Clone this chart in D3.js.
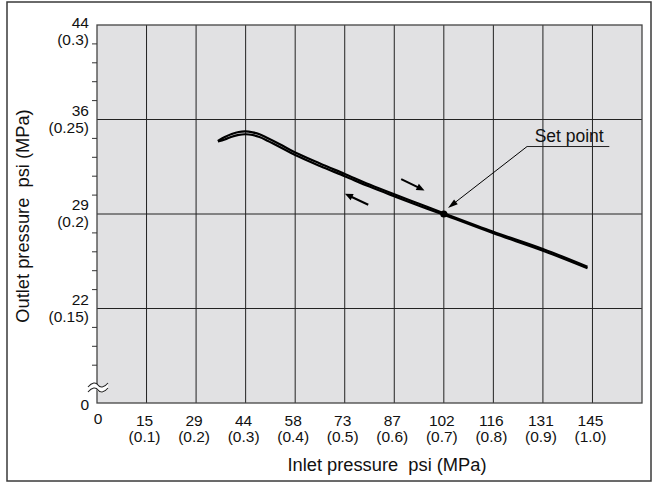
<!DOCTYPE html>
<html><head><meta charset="utf-8">
<script src="https://cdn.jsdelivr.net/npm/d3@7"></script>
<style>
html,body{margin:0;padding:0;background:#fff;}
text{font-family:"Liberation Sans",Arial,Helvetica,sans-serif;fill:#111;}
</style></head>
<body>
<svg id="chart" width="658" height="483"></svg>
<script>
// ---- data ----
const xTickMPa = [0.1,0.2,0.3,0.4,0.5,0.6,0.7,0.8,0.9,1.0];
const xTickPsi = ["15","29","44","58","73","87","102","116","131","145"];
const xTickMPaLabel = ["(0.1)","(0.2)","(0.3)","(0.4)","(0.5)","(0.6)","(0.7)","(0.8)","(0.9)","(1.0)"];
const yTickMPa = [0.15,0.2,0.25,0.3];
const yTickPsi = ["22","29","36","44"];
const yTickMPaLabel = ["(0.15)","(0.2)","(0.25)","(0.3)"];
const yMinorTicks = [0.12,0.13,0.14,0.16,0.17,0.18,0.19,0.21,0.22,0.23,0.24,0.26,0.27,0.28,0.29];

// inlet pressure (MPa) vs outlet pressure (MPa), two branches of the hysteresis
const inletUpper  = [0.244,0.258,0.272,0.286,0.300,0.314,0.328,0.344,0.369,0.40,0.45,0.50,0.55,0.60,0.65,0.70,0.80,0.90,0.99];
const outletUpper = [0.2386,0.2407,0.2423,0.2434,0.2437,0.2432,0.2422,0.2402,0.2369,0.2325,0.2267,0.2212,0.2156,0.2104,0.2054,0.2004,0.1906,0.1815,0.1721];
const inletLower  = [0.244,0.258,0.272,0.286,0.300,0.314,0.328,0.344,0.369,0.40,0.45,0.50,0.55,0.60,0.65,0.70,0.80,0.90,0.99];
const outletLower = [0.2384,0.2394,0.2409,0.2419,0.2422,0.2418,0.2407,0.2388,0.2355,0.2312,0.2254,0.2200,0.2145,0.2094,0.2044,0.1996,0.1898,0.1806,0.1713];

const setPoint = {x:0.7, y:0.2, label:"Set point"};
const xTitle = "Inlet pressure  psi (MPa)";
const yTitle = "Outlet pressure  psi (MPa)";

// ---- layout ----
const svg = d3.select("#chart");
const x = d3.scaleLinear().domain([0,1.1]).range([97,642]);
const y = d3.scaleLinear().domain([0.1,0.3]).range([403,25]);

// outer frame
svg.append("rect").attr("x",7).attr("y",2).attr("width",644).attr("height",479)
  .attr("fill","none").attr("stroke","#3a3a3a").attr("stroke-width",1.5);

// plot background
svg.append("rect").attr("x",x(0)).attr("y",y(0.3)).attr("width",x(1.1)-x(0)).attr("height",y(0.1)-y(0.3))
  .attr("fill","#e1e1e3");

// grid
const g = svg.append("g");
g.selectAll("line.v").data(xTickMPa).join("line")
  .attr("x1",d=>x(d)).attr("x2",d=>x(d)).attr("y1",y(0.3)).attr("y2",y(0.1))
  .attr("stroke","#222").attr("stroke-width",1);
g.selectAll("line.h").data(yTickMPa.slice(0,3)).join("line")
  .attr("x1",x(0)).attr("x2",x(1.1)).attr("y1",d=>y(d)).attr("y2",d=>y(d))
  .attr("stroke","#222").attr("stroke-width",1);

// plot border
svg.append("rect").attr("x",x(0)).attr("y",y(0.3)).attr("width",x(1.1)-x(0)).attr("height",y(0.1)-y(0.3))
  .attr("fill","none").attr("stroke","#444").attr("stroke-width",1.3);

// minor y ticks
svg.selectAll("line.mt").data(yMinorTicks).join("line")
  .attr("x1",x(0)-5).attr("x2",x(0)).attr("y1",d=>y(d)).attr("y2",d=>y(d))
  .attr("stroke","#333").attr("stroke-width",1);

// axis break symbol
const bY = 387, bX = x(0);
const wave = (yy)=>`M${bX-9},${yy+2} C${bX-5},${yy-3} ${bX-1},${yy-3} ${bX+1},${yy} S${bX+7},${yy+3} ${bX+11},${yy-2}`;
svg.append("path").attr("d", wave(bY-2)+` L${bX+11},${bY+2} `+ `C${bX+7},${bY+7} ${bX+3},${bY+7} ${bX+1},${bY+4} S${bX-5},${bY+1} ${bX-9},${bY+4} Z`)
  .attr("fill","#fff").attr("stroke","none");
svg.append("path").attr("d",wave(bY-2)).attr("fill","none").attr("stroke","#222").attr("stroke-width",1.1);
svg.append("path").attr("d",wave(bY+3)).attr("fill","none").attr("stroke","#222").attr("stroke-width",1.1);

// x tick labels
const fsTick = 15.5;
svg.selectAll("text.xp").data(xTickPsi).join("text")
  .attr("x",(d,i)=>x(xTickMPa[i])-2).attr("y",426).attr("text-anchor","middle")
  .attr("font-size",fsTick).text(d=>d);
svg.selectAll("text.xm").data(xTickMPaLabel).join("text")
  .attr("x",(d,i)=>x(xTickMPa[i])-2).attr("y",442).attr("text-anchor","middle")
  .attr("font-size",fsTick).text(d=>d);
svg.append("text").attr("x",x(0)+1).attr("y",424).attr("text-anchor","middle").attr("font-size",fsTick).text("0");
svg.append("text").attr("x",89).attr("y",410).attr("text-anchor","end").attr("font-size",fsTick).text("0");

// y tick labels
yTickMPa.forEach((v,i)=>{
  const off = (v===0.3) ? 7 : 0;
  svg.append("text").attr("x",89).attr("y",y(v)-4+off).attr("text-anchor","end")
    .attr("font-size",fsTick).text(yTickPsi[i]);
  svg.append("text").attr("x",89).attr("y",y(v)+13+off).attr("text-anchor","end")
    .attr("font-size",fsTick).text(yTickMPaLabel[i]);
});

// titles
svg.append("text").attr("x",387).attr("y",471).attr("text-anchor","middle")
  .attr("font-size",18.3).style("white-space","pre").text(xTitle);
svg.append("text").attr("transform","translate(29,216) rotate(-90)").attr("text-anchor","middle")
  .attr("font-size",18.3).style("white-space","pre").text(yTitle);

// curves
const line = d3.line().x(d=>x(d[0])).y(d=>y(d[1])).curve(d3.curveCatmullRom.alpha(0.5));
const upper = inletUpper.map((v,i)=>[v,outletUpper[i]]);
const lower = inletLower.map((v,i)=>[v,outletLower[i]]);
[upper,lower].forEach(dat=>{
  svg.append("path").datum(dat).attr("d",line).attr("fill","none")
    .attr("stroke","#000").attr("stroke-width",2.2).attr("stroke-linecap","butt");
});

// set point
svg.append("circle").attr("cx",x(setPoint.x)).attr("cy",y(setPoint.y)).attr("r",3.6).attr("fill","#000");

// arrow helper
function arrow(x1,y1,x2,y2,w,hl,hw){
  const dx=x2-x1, dy=y2-y1, L=Math.hypot(dx,dy), ux=dx/L, uy=dy/L;
  const bx=x2-ux*hl, by=y2-uy*hl;
  svg.append("line").attr("x1",x1).attr("y1",y1).attr("x2",bx+ux*1).attr("y2",by+uy*1)
    .attr("stroke","#000").attr("stroke-width",w);
  svg.append("path").attr("d",`M${x2},${y2} L${bx-uy*hw},${by+ux*hw} L${bx+uy*hw},${by-ux*hw} Z`).attr("fill","#000");
}
// set point leader
const lblX0 = x(0.868), lblY = y(0.2357), lblX1 = x(1.034);
svg.append("line").attr("x1",lblX0).attr("y1",lblY).attr("x2",lblX1).attr("y2",lblY).attr("stroke","#222").attr("stroke-width",1);
arrow(lblX0,lblY,x(0.7085),y(0.2032),1,10,3);
svg.append("text").attr("x",(lblX0+lblX1)/2+1).attr("y",lblY-5).attr("text-anchor","middle")
  .attr("font-size",17.5).text(setPoint.label);

// direction arrows
arrow(x(0.614),y(0.2185),x(0.661),y(0.2125),2,8,3.5);
arrow(x(0.5475),y(0.2049),x(0.5004),y(0.2107),2,8,3.5);
</script>
</body></html>
